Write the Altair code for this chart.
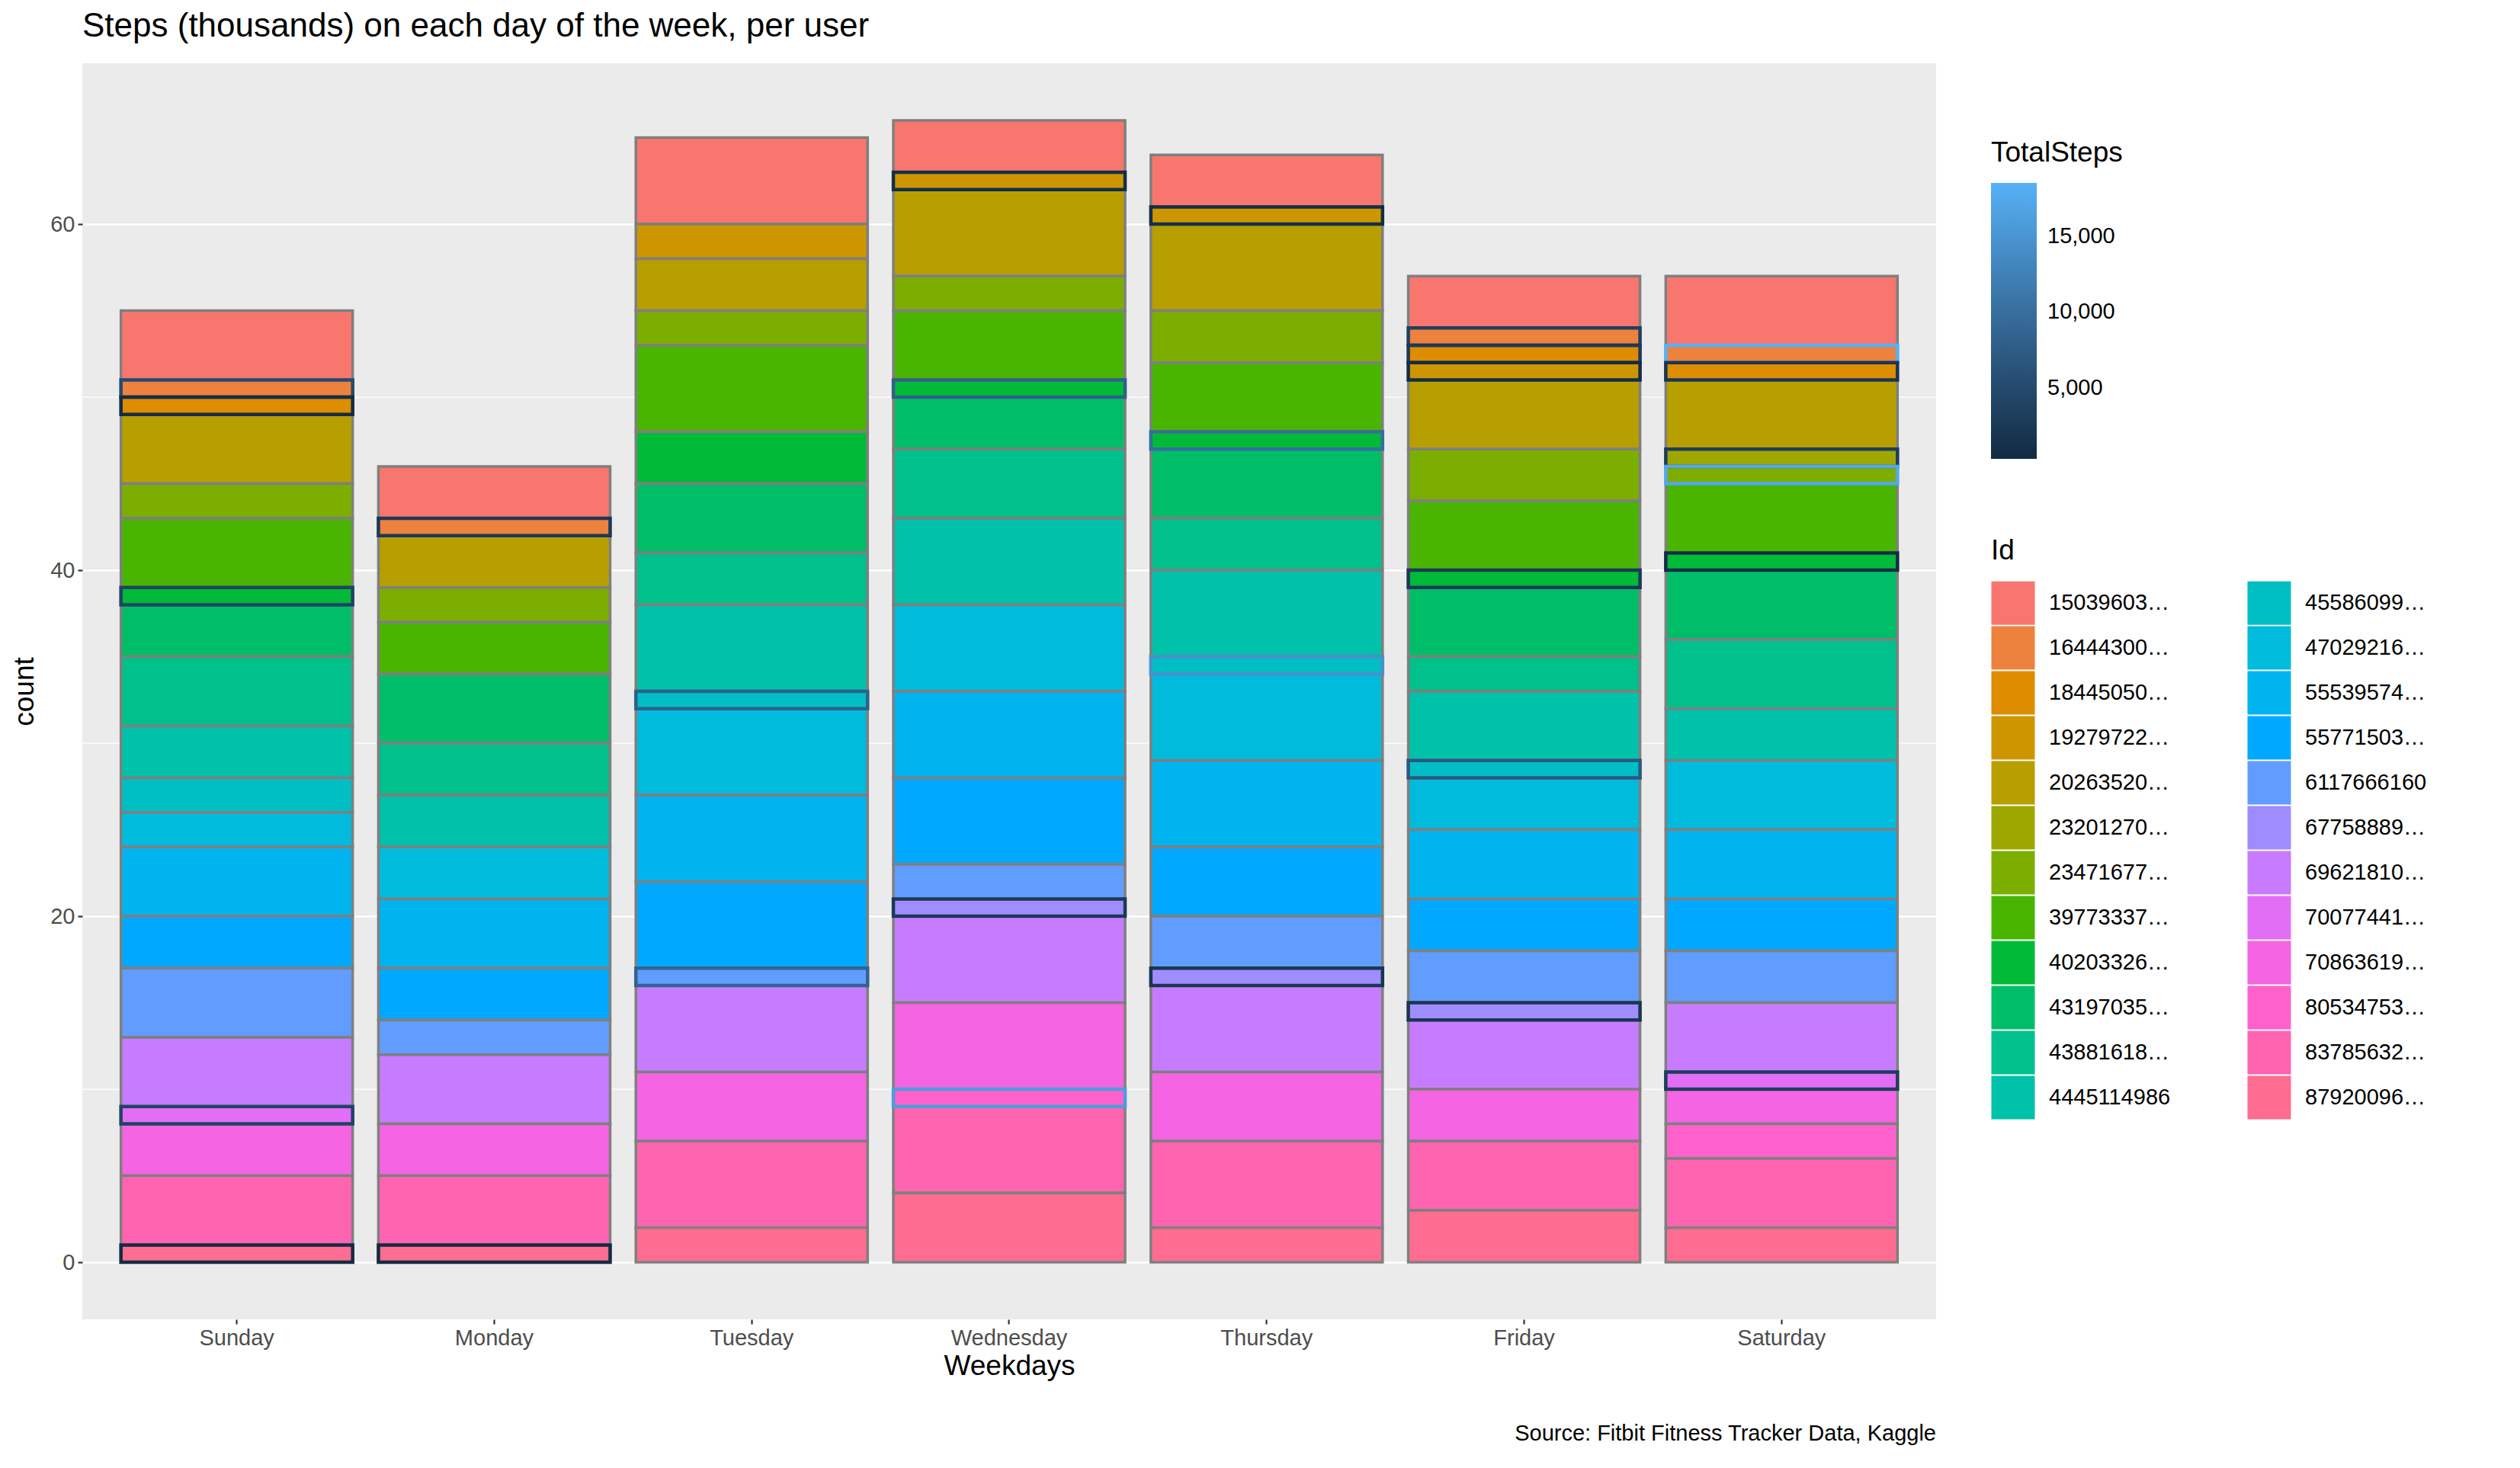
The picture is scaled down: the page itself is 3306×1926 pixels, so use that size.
import math
import altair as alt
import pandas as pd

days = ["Sunday", "Monday", "Tuesday", "Wednesday", "Thursday", "Friday", "Saturday"]
ids = ["1503960366", "1644430081", "1844505072", "1927972279", "2026352035", "2320127002",
       "2347167796", "3977333714", "4020332650", "4319703577", "4388161847", "4445114986",
       "4558609924", "4702921684", "5553957443", "5577150313", "6117666160", "6775888955",
       "6962181067", "7007744171", "7086361926", "8053475328", "8378563200", "8792009665"]
letters = "ABCDEFGHIJKLMNOPQRSTUVWX"

# segments per weekday, top to bottom: (user letter, count, TotalSteps of outlined day or None)
segments = {
    "Sunday": [("A", 4, None), ("B", 1, 5000), ("C", 1, 500), ("E", 4, None), ("G", 2, None),
               ("H", 4, None), ("I", 1, 4000), ("J", 3, None), ("K", 4, None), ("L", 3, None),
               ("M", 2, None), ("N", 2, None), ("O", 4, None), ("P", 3, None), ("Q", 4, None),
               ("S", 4, None), ("T", 1, 4000), ("U", 3, None), ("W", 4, None), ("X", 1, 300)],
    "Monday": [("A", 3, None), ("B", 1, 2500), ("E", 3, None), ("G", 2, None), ("H", 3, None),
               ("J", 4, None), ("K", 3, None), ("L", 3, None), ("N", 3, None), ("O", 4, None),
               ("P", 3, None), ("Q", 2, None), ("S", 4, None), ("U", 3, None), ("W", 4, None),
               ("X", 1, 300)],
    "Tuesday": [("A", 5, None), ("D", 2, None), ("E", 3, None), ("G", 2, None), ("H", 5, None),
                ("I", 3, None), ("J", 4, None), ("K", 3, None), ("L", 5, None), ("M", 1, 8000),
                ("N", 5, None), ("O", 5, None), ("P", 5, None), ("Q", 1, 8500), ("S", 5, None),
                ("U", 4, None), ("W", 5, None), ("X", 2, None)],
    "Wednesday": [("A", 3, None), ("D", 1, 800), ("E", 5, None), ("G", 2, None), ("H", 4, None),
                  ("I", 1, 8000), ("J", 3, None), ("K", 4, None), ("L", 5, None), ("N", 5, None),
                  ("O", 5, None), ("P", 5, None), ("Q", 2, None), ("R", 1, 2500), ("S", 5, None),
                  ("U", 5, None), ("V", 1, 16000), ("W", 5, None), ("X", 4, None)],
    "Thursday": [("A", 3, None), ("D", 1, 800), ("E", 5, None), ("G", 3, None), ("H", 4, None),
                 ("I", 1, 10000), ("J", 4, None), ("K", 3, None), ("L", 5, None), ("M", 1, 14500),
                 ("N", 5, None), ("O", 5, None), ("P", 4, None), ("Q", 3, None), ("R", 1, 2000),
                 ("S", 5, None), ("U", 4, None), ("W", 5, None), ("X", 2, None)],
    "Friday": [("A", 3, None), ("B", 1, 3500), ("C", 1, 2500), ("D", 1, 500), ("E", 4, None),
               ("G", 3, None), ("H", 4, None), ("I", 1, 2500), ("J", 4, None), ("K", 2, None),
               ("L", 4, None), ("M", 1, 7000), ("N", 3, None), ("O", 4, None), ("P", 3, None),
               ("Q", 3, None), ("R", 1, 2000), ("S", 4, None), ("U", 3, None), ("W", 4, None),
               ("X", 3, None)],
    "Saturday": [("A", 4, None), ("B", 1, 18500), ("C", 1, 2000), ("E", 4, None), ("F", 1, 3000),
                 ("G", 1, 17500), ("H", 4, None), ("I", 1, 500), ("J", 4, None), ("K", 4, None),
                 ("L", 3, None), ("N", 4, None), ("O", 4, None), ("P", 3, None), ("Q", 3, None),
                 ("S", 4, None), ("T", 1, 3000), ("U", 2, None), ("V", 2, None), ("W", 4, None),
                 ("X", 2, None)],
}
y_ticks = [0, 20, 40, 60]
y_minor = [10, 30, 50]
step_ticks = [5000, 10000, 15000]


def hcl_hex(h, c=100, l=65):
    # polar LUV -> sRGB, as in ggplot's hue palette
    xn, yn, zn = 95.047, 100.0, 108.883
    un = 4 * xn / (xn + 15 * yn + 3 * zn)
    vn = 9 * yn / (xn + 15 * yn + 3 * zn)
    u = c * math.cos(math.radians(h))
    v = c * math.sin(math.radians(h))
    Y = yn * ((l + 16) / 116) ** 3
    up = u / (13 * l) + un
    vp = v / (13 * l) + vn
    X = Y * 9 * up / (4 * vp)
    Z = Y * (12 - 3 * up - 20 * vp) / (4 * vp)
    X, Y, Z = X / 100, Y / 100, Z / 100
    rgb = [3.240479 * X - 1.53715 * Y - 0.498535 * Z,
           -0.969256 * X + 1.875992 * Y + 0.041556 * Z,
           0.055648 * X - 0.204043 * Y + 1.057311 * Z]
    out = []
    for ch in rgb:
        ch = 12.92 * ch if ch <= 0.0031308 else 1.055 * ch ** (1 / 2.4) - 0.055
        out.append(max(0, min(255, round(ch * 255))))
    return "#%02X%02X%02X" % tuple(out)


palette = [hcl_hex(15 + 15 * i) for i in range(24)]

rows = []
for day in days:
    for pos, (letter, n, steps) in enumerate(segments[day]):
        rows.append({"Weekdays": day, "Id": ids[letters.index(letter)], "n": n,
                     "pos": pos, "steps": steps})
df = pd.DataFrame(rows)

font = "Liberation Sans"
W, H = 2432, 1648

xenc = alt.X("Weekdays:N", sort=days, title="Weekdays",
             scale=alt.Scale(paddingInner=0.1, paddingOuter=0.15))
yscale = alt.Scale(domain=[-3.3, 69.3], nice=False, zero=False)

base = alt.Chart(df).transform_stack(
    stack="n", groupby=["Weekdays"], sort=[alt.SortField("pos", order="descending")],
    as_=["y0", "y1"]
)

bars = base.mark_bar(stroke="#7F7F7F", strokeWidth=3.5).encode(
    x=xenc,
    y=alt.Y("y0:Q", title="count", scale=yscale,
            axis=alt.Axis(values=y_ticks, tickCount=4)),
    y2="y1:Q",
    fill=alt.Fill("Id:N", scale=alt.Scale(domain=ids, range=palette),
                  legend=alt.Legend(title="Id", columns=2, orient="none", legendX=2504, legendY=622,
                                    symbolType="square", symbolSize=3250, symbolStrokeWidth=0,
                                    labelFontSize=29, titleFontSize=37, rowPadding=1,
                                    columnPadding=100, labelOffset=18, titlePadding=20,
                                    labelFont=font, titleFont=font, titleFontWeight="normal",
                                    labelColor="black", titleColor="black")),
)

outlines = base.transform_filter("datum.steps != null").mark_bar(
    fillOpacity=0, strokeWidth=4.5
).encode(
    x=xenc,
    y=alt.Y("y0:Q", scale=yscale),
    y2="y1:Q",
    stroke=alt.Stroke("steps:Q", title="TotalSteps",
                      scale=alt.Scale(domain=[300, 18500], range=["#132B43", "#56B1F7"]),
                      legend=alt.Legend(orient="none", legendX=2504, legendY=100, values=step_ticks,
                                        gradientLength=362, gradientThickness=60,
                                        gradientStrokeWidth=0, labelFontSize=29,
                                        titleFontSize=37, titlePadding=20, labelOffset=14,
                                        labelFont=font, titleFont=font, titleFontWeight="normal",
                                        labelColor="black", titleColor="black")),
)

minor = alt.Chart(pd.DataFrame({"v": y_minor})).mark_rule(color="white", strokeWidth=1.2).encode(
    y=alt.Y("v:Q", scale=yscale)
)

caption = alt.Chart(pd.DataFrame({"t": ["Source: Fitbit Fitness Tracker Data, Kaggle"]})).mark_text(
    align="right", baseline="middle", fontSize=29, font=font, color="black"
).encode(text="t:N", x=alt.value(W), y=alt.value(H + 150))

chart = alt.layer(minor, bars, outlines, caption).resolve_scale(
    fill="independent", stroke="independent"
).properties(
    width=W, height=H,
    title=alt.TitleParams("Steps (thousands) on each day of the week, per user", anchor="start",
                          frame="group", fontSize=44, font=font, fontWeight="normal",
                          color="black", offset=26),
).configure_view(fill="#EBEBEB", stroke=None).configure_axis(
    gridColor="white", gridWidth=2.4, domain=False, tickColor="#333333", tickWidth=2.2,
    tickSize=6, labelColor="#4D4D4D", labelFontSize=29, labelFont=font, titleFont=font,
    titleFontSize=37, titleFontWeight="normal", titleColor="black", labelPadding=4
).configure_axisX(labelAngle=0, titlePadding=4).configure_axisY(titlePadding=14)

chart.save("out.html", embed_options={"renderer": "svg", "actions": False})
